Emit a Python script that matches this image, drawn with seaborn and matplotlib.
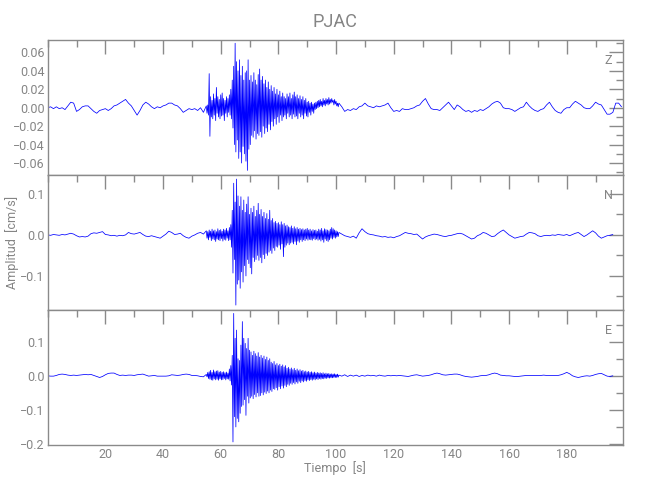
import numpy as np
import pandas as pd
import matplotlib
matplotlib.use("Agg")
import matplotlib.pyplot as plt
import seaborn as sns
from matplotlib.ticker import MultipleLocator, FixedLocator
from matplotlib import font_manager

# ---------------- data (milli cm/s) ----------------
# quiet part before the event, 1 s samples starting at t = 0 s
z_pre = [0, 1, -1, 1, -1, 0, -2, 2, 6, 5, -4, -2, 1, 2, 2, -1, -4, -6, -3, -2,
         -1, -3, -1, 2, 3, 5, 7, 9, 5, 2, -3, -8, -3, 3, 6, 4, 1, -1, 1, 0,
         2, 3, 5, 5, 3, 2, -1, -5, -3, -1, -2, -1, -3, 0, -5]
n_pre = [0, -1, 1, 0, -1, 1, 0, 2, 4, 2, -2, -5, -4, -5, -3, 3, 5, 4, 6, 8,
         1, 0, -2, -1, -3, -1, -2, 0, 6, 3, 2, 4, 6, 1, -3, -4, -2, -4, -6, -8,
         -3, 2, 9, 6, 1, 2, 4, -2, -6, -8, -3, 0, 4, 6, 2]
e_pre = [0, -1, -1, 1, 4, 5, 4, 2, 1, 2, 1, 2, 3, 4, 3, 4, 1, -2, -5, -2,
         3, 7, 8, 8, 4, 1, 2, 1, 2, 2, 1, 3, 4, 5, 2, -1, 0, 1, -1, -1,
         -1, -1, 0, 3, 2, 1, 2, 4, 5, 4, 1, 1, 0, -2, -3]

# strong motion, read peaks every 0.5 s from t = 55 s (upper peak, then lower peak)
z_hi = [2, 3, 37, 12, 8, 15, 10, 22, 12, 9, 14, 16, 10, 8, 12, 10, 14, 20, 30, 45,
        70, 50, 40, 52, 35, 45, 30, 38, 40, 52, 30, 35, 28, 38, 30, 25, 36, 42, 30, 34,
        26, 30, 22, 28, 20, 24, 18, 22, 15, 20, 14, 18, 12, 16, 12, 10, 15, 12, 16, 10,
        14, 17, 12, 14, 10, 13, 9, 12, 8, 10, 6, 7, 5, 6, 4, 5, 6, 7, 8, 9,
        7, 10, 8, 10, 9, 11, 9, 10, 8, 9, 7, 5]
z_lo = [-6, -8, -31, -10, -12, -8, -14, -6, -10, -12, -9, -8, -14, -6, -10, -5, -8, -12, -22, -40,
        -48, -35, -55, -48, -60, -42, -50, -58, -68, -45, -40, -30, -32, -25, -34, -28, -30, -26, -32, -20,
        -28, -22, -26, -18, -24, -15, -20, -12, -18, -10, -16, -8, -14, -10, -8, -12, -6, -10, -8, -12,
        -7, -10, -9, -12, -6, -10, -8, -12, -6, -9, -10, -5, -8, -4, -6, -2, -1, 0, 1, 2,
        1, 3, 2, 4, 3, 4, 5, 6, 3, 4, 2, 1]
n_hi = [10, 8, 12, 9, 14, 10, 12, 8, 15, 11, 13, 9, 14, 12, 16, 10, 18, 25, 60, 126,
        80, 136, 95, 70, 93, 60, 85, 55, 75, 93, 50, 65, 55, 70, 45, 60, 77, 50, 62, 45,
        55, 40, 52, 38, 60, 35, 40, 30, 33, 28, 30, 25, 32, 25, 28, 22, 24, 20, 18, 22,
        16, 20, 15, 18, 14, 16, 13, 15, 12, 14, 16, 12, 14, 10, 13, 11, 12, 9, 14, 12,
        16, 10, 15, 13, 12, 10, 14, 18, 15, 12, 10, 8]
n_lo = [-8, -12, -6, -14, -10, -12, -16, -10, -12, -14, -9, -15, -11, -13, -8, -14, -12, -30, -93, -60,
        -171, -120, -110, -130, -90, -115, -75, -100, -60, -70, -80, -95, -55, -65, -60, -50, -62, -55, -68, -48,
        -58, -45, -50, -42, -38, -45, -32, -38, -28, -30, -25, -35, -22, -53, -30, -25, -20, -24, -20, -18,
        -22, -16, -24, -15, -18, -12, -16, -12, -14, -10, -13, -11, -12, -13, -9, -12, -10, -13, -11, -15,
        -12, -18, -10, -14, -16, -12, -8, -10, -6, -8, -5, -4]
e_hi = [4, 10, 12, 16, 10, 17, 12, 14, 15, 11, 13, 10, 12, 9, 11, 8, 20, 30, 60, 183,
        110, 134, 50, 45, 90, 159, 110, 95, 80, 110, 75, 70, 60, 72, 65, 58, 68, 55, 60, 52,
        58, 48, 55, 45, 50, 40, 36, 42, 32, 36, 30, 34, 28, 32, 26, 30, 22, 25, 20, 23,
        18, 22, 16, 20, 15, 18, 14, 16, 12, 14, 11, 13, 10, 12, 9, 11, 8, 10, 8, 9,
        7, 9, 6, 8, 6, 7, 5, 6, 5, 6, 4, 5]
e_lo = [-3, -8, -10, -12, -13, -9, -12, -10, -13, -9, -12, -11, -8, -12, -9, -10, -15, -27, -194, -120,
        -150, -125, -135, -110, -90, -86, -70, -116, -60, -80, -65, -60, -67, -55, -62, -50, -60, -58, -50, -56,
        -48, -52, -45, -50, -42, -46, -38, -40, -35, -42, -32, -38, -30, -36, -28, -32, -25, -28, -22, -25,
        -20, -24, -18, -22, -16, -20, -15, -18, -14, -16, -12, -14, -11, -13, -10, -12, -9, -11, -8, -10,
        -8, -9, -7, -8, -6, -7, -6, -6, -5, -5, -5, -4]

# coda, 1 s samples starting at t = 101 s
z_post = [5, 1, -4, -2, -3, -1, -2, 1, 2, 5, 2, 1, 0, 2, 1, 2, 3, 5, 0, -4,
          -3, -4, -1, -2, -2, -1, 0, 2, 3, 7, 10, 4, -1, -2, -2, -3, 0, 3, 6, 2,
          -2, 3, 1, -2, -4, -3, -5, -3, -4, -2, -3, -1, 1, 4, 6, 7, 5, 0, -1, -1,
          -2, -4, -2, 0, 1, 6, 2, -1, -3, -4, -2, -1, 3, 6, 1, -3, -5, -6, -2, 0,
          0, 4, 7, 5, 3, 0, -1, -1, 2, 6, 4, 3, -2, -7, -7, -5, 5, 5, 1]
n_post = [6, 2, -2, -4, -6, -3, -8, 5, 15, 8, 3, 1, 0, -2, -3, -5, -4, -6, -5, -7,
          -4, -2, 2, 6, 4, 3, 1, 2, -4, -10, -5, -2, 0, 2, 1, -1, -3, -4, -2, -1,
          1, 3, 4, 2, -2, -6, -10, -8, -2, 1, 6, 4, 0, -4, -3, 3, 8, 12, 6, 0,
          -4, -8, -6, -4, -3, 2, 6, 5, 3, -2, -4, -2, -1, -2, 0, -1, 1, 0, -1, 1,
          -2, 1, 4, 6, 1, -4, 0, 5, 10, 5, -3, -8, -5, -2, -1, 1]
e_post = [2, -1, 3, -2, 2, -1, 2, -2, 1, -1, 2, 0, 1, -1, 2, 0, -1, 1, 0, 1,
          0, 1, 0, -1, -2, 0, 2, 3, 1, -1, 0, 1, 3, 6, 8, 6, 3, 2, 3, 4,
          5, 5, 3, 0, -2, -3, -4, -3, -2, 0, 1, 1, 3, 6, 8, 6, 2, 1, 0, 0,
          -1, -2, -2, -1, 0, 1, 1, 1, 1, 1, 1, 2, 1, 1, 1, 1, 1, 3, 6, 10,
          6, 0, -3, -5, -3, -1, 0, -1, 1, 4, 6, 7, 3, -1, -2, 0]

components = ["Z", "N", "E"]
x_ticks = [20, 40, 60, 80, 100, 120, 140, 160, 180]


def build(pre, hi, lo, post, t_strong=55.0, t_post=101.0):
    t = list(np.arange(len(pre), dtype=float))
    v = list(pre)
    for i, (a, b) in enumerate(zip(hi, lo)):
        t += [t_strong + 0.5 * i, t_strong + 0.5 * i + 0.25]
        v += [a, b]
    t += list(t_post + np.arange(len(post), dtype=float))
    v += list(post)
    return pd.DataFrame({"t": t, "amp": np.array(v, dtype=float) / 1000.0})


traces = {
    "Z": build(z_pre, z_hi, z_lo, z_post),
    "N": build(n_pre, n_hi, n_lo, n_post),
    "E": build(e_pre, e_hi, e_lo, e_post),
}

# ---------------- style ----------------
sns.set_style("white")
installed = {f.name for f in font_manager.fontManager.ttflist}
fam = "Roboto" if "Roboto" in installed else "DejaVu Sans"
plt.rcParams["font.family"] = [fam, "DejaVu Sans"]
plt.rcParams["font.weight"] = "normal"
LS = 9
GRAY = "#8a8a8a"
TXT = "#858585"

fig = plt.figure(figsize=(6.5, 5), dpi=100)
left, width, h = 0.0734, 0.885, 0.27
bottoms = [0.65, 0.38, 0.11]
ylims = {"Z": (-0.073, 0.0735), "N": (-0.183, 0.146), "E": (-0.203, 0.193)}
ymaj = {"Z": 0.02, "N": 0.1, "E": 0.1}
ymin = {"Z": 0.01, "N": 0.05, "E": 0.05}

axes = []
for comp, b in zip(components, bottoms):
    ax = fig.add_axes([left, b, width, h])
    sns.lineplot(data=traces[comp], x="t", y="amp", ax=ax, color="#0000ff",
                 lw=0.55, estimator=None, sort=False)
    ax.set_xlim(0, 199.5)
    ax.set_ylim(*ylims[comp])
    ax.xaxis.set_major_locator(FixedLocator(x_ticks))
    ax.xaxis.set_minor_locator(MultipleLocator(10))
    ax.yaxis.set_major_locator(MultipleLocator(ymaj[comp]))
    ax.yaxis.set_minor_locator(MultipleLocator(ymin[comp]))
    for s in ax.spines.values():
        s.set_color(GRAY)
        s.set_linewidth(1.0)
    ax.tick_params(which="both", direction="in", top=True, right=True,
                   colors=GRAY, labelcolor=TXT, labelsize=LS, pad=2)
    ax.tick_params(which="major", length=10, width=1)
    ax.tick_params(which="minor", length=5, width=1)
    ax.set_xlabel("")
    ax.set_ylabel("")
    ax.text(0.975, 0.85, comp, transform=ax.transAxes, ha="center", va="center",
            color=TXT, fontsize=LS)
    if comp != "E":
        ax.tick_params(labelbottom=False)
    axes.append(ax)

fig.text(12 / 650, bottoms[1] + h / 2, "Amplitud  [cm/s]", rotation=90,
         ha="center", va="center", color=TXT, fontsize=LS)
fig.text(left + width / 2, 1 - 468 / 500, "Tiempo  [s]", ha="center", va="center",
         color=TXT, fontsize=LS)
fig.text(left + width / 2, 1 - 22 / 500, "PJAC", ha="center", va="center",
         color=TXT, fontsize=LS * 1.45)

fig.savefig("out.png", dpi=100, facecolor="white")
